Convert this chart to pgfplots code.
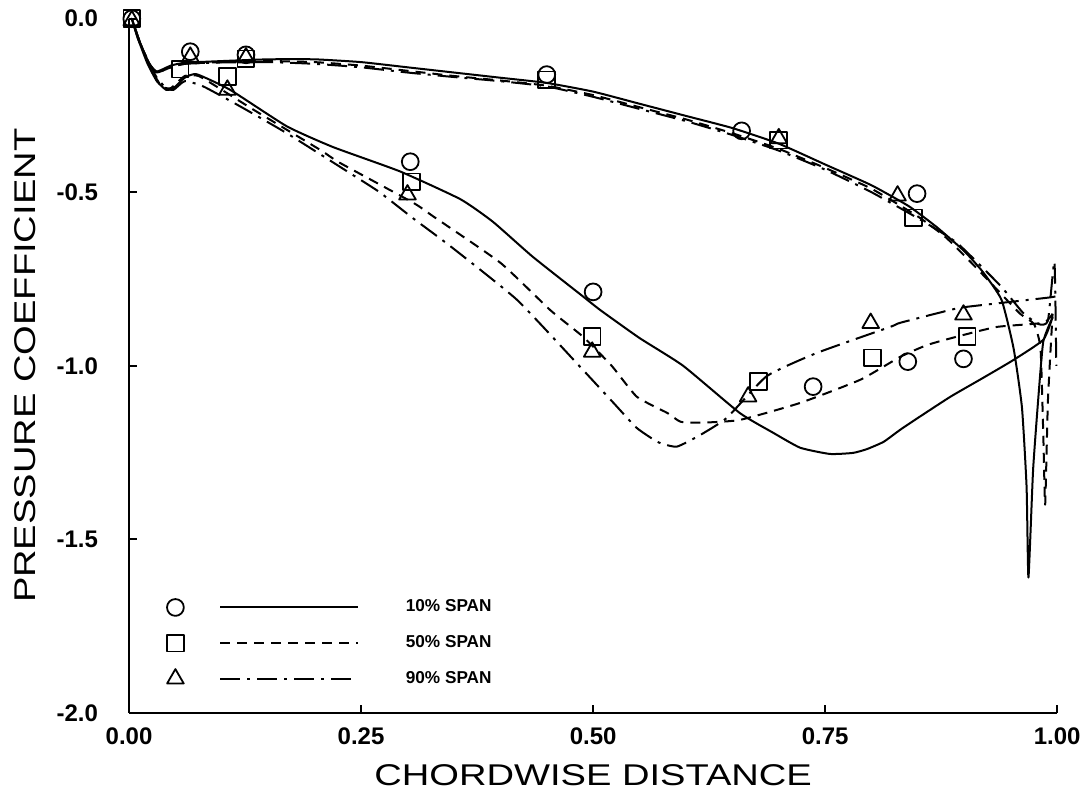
\documentclass[border=0pt]{standalone}
\usepackage{fontspec}
\setmainfont{Liberation Sans}
\newfontfamily\widefont[FakeStretch=1.27]{Liberation Sans}
\usepackage{pgfplots}
\pgfplotsset{compat=1.18}

\begin{document}
\begin{tikzpicture}
\begin{axis}[
  scale only axis, width=464pt, height=347pt,
  xmin=0, xmax=1, ymin=-2, ymax=0,
  axis x line*=bottom, axis y line*=left,
  axis line style={line width=1pt},
  clip=false,
  xtick={0,0.25,0.5,0.75,1}, ytick={-2,-1.5,-1,-0.5,0},
  tick align=inside, major tick length=4pt,
  tick style={line width=1pt, black},
  /pgf/number format/assume math mode=true,
  xticklabel style={/pgf/number format/fixed, /pgf/number format/fixed zerofill,
    /pgf/number format/precision=2, yshift=-4pt},
  yticklabel style={/pgf/number format/fixed, /pgf/number format/fixed zerofill,
    /pgf/number format/precision=1, xshift=-12pt},
  ticklabel style={font=\bfseries\fontsize{12}{14}\selectfont},
  xlabel={CHORDWISE DISTANCE},
  ylabel={PRESSURE COEFFICIENT},
  label style={font=\widefont\fontsize{15}{18}\selectfont},
  xlabel style={at={(axis description cs:0.5,-0.0893)}, anchor=center},
  ylabel style={at={(axis description cs:-0.112,0.5)}, anchor=center},
  legend style={draw=none, fill=none, at={(rel axis cs:0.0405,0.169)}, anchor=north west,
    font=\bfseries\fontsize{8.6}{10.5}\selectfont, row sep=6.3pt, inner sep=0pt},
  legend cell align=left,
  every axis plot/.append style={line join=round},
]
\coordinate (bl) at (rel axis cs:-0.139,-0.121);
\coordinate (tr) at (rel axis cs:1.031,1.027);

% 10% span
\addplot[black, line width=1pt, smooth, tension=0.3, forget plot] coordinates {
(0.995,-0.86) (0.985,-0.925) (0.953,-0.983) (0.92,-1.035) (0.885,-1.089)
(0.85,-1.15) (0.831,-1.184) (0.813,-1.219) (0.795,-1.24) (0.78,-1.251)
(0.755,-1.254) (0.723,-1.236) (0.694,-1.193) (0.658,-1.136) (0.597,-1.0)
(0.55,-0.92) (0.508,-0.84) (0.489,-0.80) (0.435,-0.686) (0.392,-0.585)
(0.357,-0.52) (0.292,-0.44) (0.22,-0.37) (0.17,-0.31) (0.109,-0.205)
(0.073,-0.16) (0.06,-0.17) (0.048,-0.2) (0.04,-0.205) (0.03,-0.18)
(0.02,-0.13) (0.01,-0.06) (0.003,0)
(0.012,-0.07) (0.022,-0.13) (0.03,-0.152) (0.045,-0.135) (0.06,-0.127)
(0.1,-0.122) (0.15,-0.117) (0.2,-0.117) (0.25,-0.125) (0.3,-0.14)
(0.35,-0.155) (0.4,-0.17) (0.45,-0.185) (0.5,-0.21) (0.55,-0.245)
(0.6,-0.28) (0.65,-0.315) (0.7,-0.36) (0.75,-0.42) (0.8,-0.48)
(0.84,-0.54) (0.87,-0.6) (0.9,-0.67) (0.92,-0.73) (0.94,-0.81)
(0.953,-0.95) (0.962,-1.12) (0.967,-1.35) (0.969,-1.61) (0.974,-1.3)
(0.98,-1.08) (0.985,-0.93) (0.995,-0.86)
};

% 50% span
\addplot[black, line width=1pt, smooth, tension=0.3, dash pattern=on 5pt off 3.5pt, forget plot] coordinates {
(0.995,-0.85) (0.985,-0.876) (0.935,-0.888) (0.892,-0.916) (0.86,-0.94)
(0.831,-0.974) (0.788,-1.04) (0.723,-1.107) (0.658,-1.156) (0.615,-1.164)
(0.594,-1.161) (0.58,-1.136) (0.547,-1.089) (0.52,-1.0) (0.489,-0.916)
(0.454,-0.84) (0.40,-0.703) (0.328,-0.57) (0.306,-0.53) (0.227,-0.415)
(0.206,-0.378) (0.134,-0.262) (0.1,-0.205) (0.075,-0.165) (0.06,-0.165)
(0.045,-0.2) (0.035,-0.195) (0.025,-0.15) (0.012,-0.07) (0.003,0)
(0.012,-0.07) (0.022,-0.13) (0.03,-0.155) (0.045,-0.14) (0.06,-0.13)
(0.1,-0.125) (0.15,-0.122) (0.2,-0.125) (0.25,-0.135) (0.3,-0.15)
(0.35,-0.165) (0.4,-0.178) (0.45,-0.193) (0.5,-0.22) (0.55,-0.255)
(0.6,-0.29) (0.65,-0.33) (0.7,-0.375) (0.75,-0.43) (0.8,-0.49)
(0.85,-0.57) (0.88,-0.63) (0.91,-0.71) (0.935,-0.78) (0.96,-0.85)
(0.975,-0.88) (0.982,-0.95) (0.985,-1.2) (0.987,-1.4) (0.99,-1.1)
(0.995,-0.85)
};

% 90% span
\addplot[black, line width=1pt, smooth, tension=0.3, dash pattern=on 10pt off 3.5pt on 1.5pt off 3.5pt, forget plot] coordinates {
(0.998,-0.8) (0.989,-0.804) (0.903,-0.83) (0.885,-0.839) (0.831,-0.876)
(0.82,-0.888) (0.741,-0.963) (0.687,-1.03) (0.644,-1.15) (0.615,-1.2)
(0.59,-1.233) (0.57,-1.22) (0.547,-1.179) (0.522,-1.107) (0.486,-1.003)
(0.418,-0.81) (0.346,-0.655) (0.306,-0.575) (0.27,-0.50) (0.241,-0.45)
(0.17,-0.33) (0.12,-0.253) (0.08,-0.195) (0.06,-0.18) (0.048,-0.205)
(0.04,-0.2) (0.03,-0.17) (0.02,-0.12) (0.01,-0.06) (0.003,0)
(0.012,-0.07) (0.022,-0.13) (0.03,-0.155) (0.045,-0.14) (0.06,-0.13)
(0.1,-0.126) (0.15,-0.125) (0.2,-0.13) (0.25,-0.14) (0.3,-0.155)
(0.35,-0.168) (0.4,-0.18) (0.45,-0.195) (0.5,-0.225) (0.55,-0.26)
(0.6,-0.295) (0.65,-0.335) (0.7,-0.38) (0.75,-0.435) (0.8,-0.5)
(0.85,-0.575) (0.892,-0.646) (0.939,-0.77) (0.963,-0.847) (0.98,-0.88)
(0.99,-0.87) (0.997,-0.70) (0.999,-1.0)
};

% measured points
\addplot[only marks, mark=o, mark size=4.2pt, mark options={line width=0.9pt, fill=white}, forget plot] coordinates {
(0.003,0.0) (0.066,-0.095) (0.126,-0.104) (0.303,-0.412) (0.450,-0.161)
(0.500,-0.787) (0.66,-0.323) (0.737,-1.06) (0.839,-0.988) (0.849,-0.504)
(0.899,-0.98)
};
\addplot[only marks, mark=square, mark size=4.2pt, mark options={line width=0.9pt}, forget plot] coordinates {
(0.003,0) (0.055,-0.145) (0.106,-0.167) (0.126,-0.116) (0.304,-0.47)
(0.450,-0.176) (0.499,-0.916) (0.678,-1.046) (0.70,-0.35) (0.801,-0.977)
(0.845,-0.574) (0.903,-0.916)
};
\addplot[only marks, mark=triangle, mark size=4.8pt, mark options={line width=0.9pt}, forget plot] coordinates {
(0.003,-0.005) (0.066,-0.11) (0.106,-0.205) (0.126,-0.112) (0.300,-0.507)
(0.499,-0.96) (0.667,-1.089) (0.70,-0.345) (0.799,-0.877) (0.828,-0.51)
(0.899,-0.853)
};

\addlegendimage{legend image code/.code={
  \draw[line width=0.9pt] plot[mark=o, mark size=4.2pt] coordinates {(0pt,0pt)};
  \draw[line width=1pt] (22.5pt,0pt) -- (91.5pt,0pt);
  \path (113pt,0pt);}}
\addlegendentry{10\% SPAN}
\addlegendimage{legend image code/.code={
  \draw[line width=0.9pt] plot[mark=square, mark size=4.2pt] coordinates {(0pt,0pt)};
  \draw[line width=1pt, dash pattern=on 5pt off 3.5pt] (22.5pt,0pt) -- (91.5pt,0pt);
  \path (113pt,0pt);}}
\addlegendentry{50\% SPAN}
\addlegendimage{legend image code/.code={
  \draw[line width=0.9pt] plot[mark=triangle, mark size=4.8pt] coordinates {(0pt,0pt)};
  \draw[line width=1pt, dash pattern=on 10pt off 3.5pt on 1.5pt off 3.5pt] (22.5pt,0pt) -- (91.5pt,0pt);
  \path (113pt,0pt);}}
\addlegendentry{90\% SPAN}
\end{axis}
\pgfresetboundingbox
\path[use as bounding box] (bl) rectangle (tr);
\end{tikzpicture}
\end{document}
